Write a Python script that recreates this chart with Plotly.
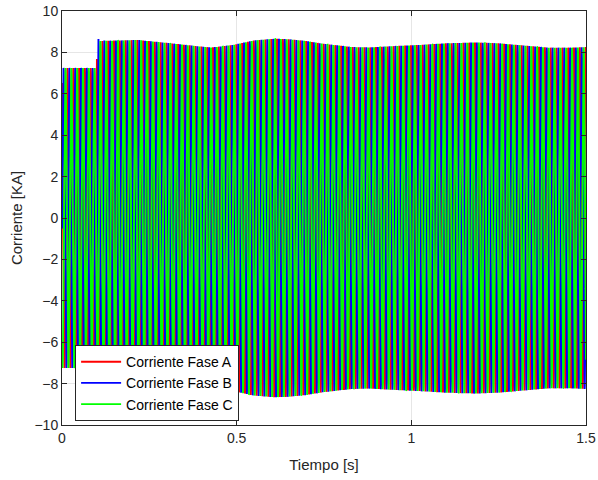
import numpy as np
import plotly.graph_objects as go

# Three-phase line currents (kA), 60 Hz, sampled over 1.5 s
freq_hz = 60.0
phase_a_deg = 116.0  # initial angle of phase A
phase_names = ["Corriente Fase A", "Corriente Fase B", "Corriente Fase C"]
phase_shift_deg = [0.0, -120.0, 120.0]
phase_colors = ["#FF0000", "#0000FF", "#00FF00"]

# Peak-current envelope (kA) against time (s)
env_t = [0.0, 0.0999, 0.1, 0.104, 0.217, 0.294, 0.41, 0.43, 0.49, 0.55, 0.61,
         0.646, 0.70, 0.746, 0.83, 0.88, 0.957, 1.023, 1.10, 1.186, 1.25,
         1.33, 1.394, 1.46, 1.5]
env_amp = [7.25, 7.25, 8.55, 8.55, 8.60, 8.47, 8.26, 8.24, 8.36, 8.58, 8.66,
           8.64, 8.55, 8.42, 8.26, 8.24, 8.31, 8.36, 8.44, 8.48, 8.44,
           8.32, 8.23, 8.23, 8.26]

# Short DC transient on each phase when the load changes at t = 0.1 s
step_time = 0.1
step_dc = [0.0, 0.15, 0.0]
step_tau = 0.01

t = np.linspace(0.0, 1.5, 9001)
amp = np.interp(t, env_t, env_amp)
after = t >= step_time

fig = go.Figure()
for name, shift, color, dc in zip(phase_names, phase_shift_deg, phase_colors, step_dc):
    theta = 2 * np.pi * freq_hz * t + np.deg2rad(phase_a_deg + shift)
    y = amp * np.sin(theta)
    y = y + np.where(after, dc * np.exp(-(t - step_time) / step_tau), 0.0)
    fig.add_trace(go.Scatter(x=t, y=y, mode="lines", name=name,
                             line=dict(color=color, width=1.9)))

font_family = "Liberation Sans, Arial, sans-serif"
axis_common = dict(
    showline=True, mirror="ticks", linecolor="#262626", linewidth=1,
    ticks="inside", ticklen=5, tickcolor="#262626",
    showgrid=True, gridcolor="#E6E6E6", gridwidth=1,
    zeroline=False, automargin=False,
    tickfont=dict(family=font_family, size=14, color="#262626"),
    title_font=dict(family=font_family, size=15, color="#262626"),
)

fig.update_xaxes(range=[0, 1.5], tickvals=[0, 0.5, 1, 1.5],
                 ticktext=["0", "0.5", "1", "1.5"],
                 title_text="Tiempo [s]", title_standoff=14, **axis_common)
fig.update_yaxes(range=[-10, 10], tickvals=list(range(-10, 11, 2)),
                 title_text="Corriente [KA]", title_standoff=8, **axis_common)

fig.update_layout(
    width=598, height=480,
    margin=dict(l=62, r=12, t=11, b=55),
    paper_bgcolor="white", plot_bgcolor="white",
    showlegend=True,
    legend=dict(x=0.025, y=0.193, xanchor="left", yanchor="top",
                bgcolor="white", bordercolor="#262626", borderwidth=1,
                font=dict(family=font_family, size=14, color="#000000"),
                itemwidth=40, tracegroupgap=0),
)

fig.write_html("out.html")
